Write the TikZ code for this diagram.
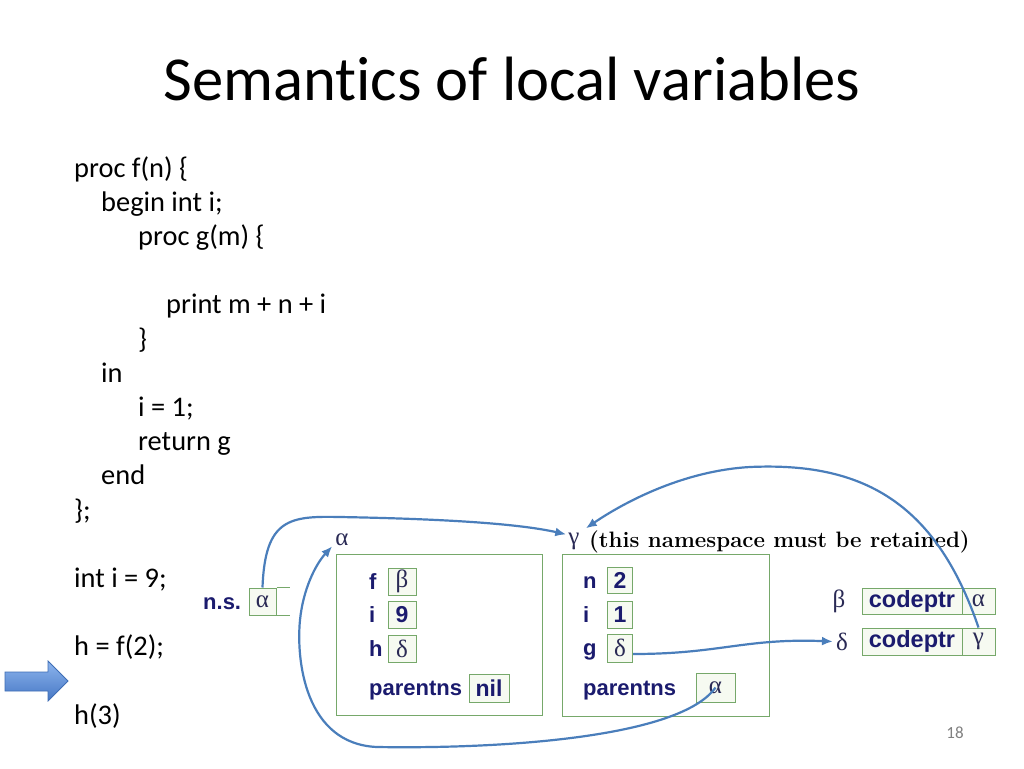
\documentclass[tikz,border=0pt]{standalone}
\usepackage{fontspec}
\newfontfamily\calfont[Ligatures=NoCommon]{Carlito}
\newfontfamily\hvfont{Liberation Sans}
\newfontfamily\grfont{Liberation Serif}
\usetikzlibrary{arrows.meta}
\definecolor{navy}{HTML}{1B1B6E}
\definecolor{frgreen}{HTML}{76A86A}
\definecolor{cellfill}{HTML}{F6FAF1}
\definecolor{conblue}{HTML}{4A7EBB}
\definecolor{arrlight}{HTML}{8DB5EE}
\definecolor{arrdark}{HTML}{4677C4}
\definecolor{arredge}{HTML}{3E6DB5}
\definecolor{grktext}{HTML}{2A2A55}
\begin{document}
\begin{tikzpicture}[x=1pt,y=-1pt,
  code/.style={font=\calfont\fontsize{28.4}{34}\selectfont, anchor=base west, inner sep=0pt},
  frame/.style={draw=frgreen, line width=1.1pt, anchor=north west, inner sep=0pt},
  cell/.style={draw=frgreen, fill=cellfill, line width=1pt, inner sep=0pt, minimum height=27pt, text=navy},
  lbl/.style={font=\hvfont\bfseries\fontsize{22}{22}\selectfont, text=navy, anchor=base west, inner sep=0pt},
  val/.style={font=\hvfont\bfseries\fontsize{23}{23}\selectfont},
  grk/.style={font=\grfont\fontsize{25}{25}\selectfont, text=grktext},
  conn/.style={draw=conblue, line width=2.2pt, -{Latex[length=11pt,width=9pt]}}
]
\useasboundingbox (0,0) rectangle (1024,768);
\fill[white] (0,0) rectangle (1024,768);

% title
\node[font=\calfont\fontsize{62.6}{70}\selectfont, anchor=base] (title) at (512,100) {Semantics of local variables};

% code
\node[code] (c0) at (74,177) {proc f(n) \{};
\node[code] (c1) at (101,211.2) {begin int i;};
\node[code] (c2) at (138,245.4) {proc g(m) \{};
\node[code] (c4) at (166,313.8) {print m + n + i};
\node[code] (c5) at (138,348) {\}};
\node[code] (c6) at (101,382.2) {in};
\node[code] (c7) at (138,416.4) {i = 1;};
\node[code] (c8) at (138,450.6) {return g};
\node[code] (c9) at (101,484.8) {end};
\node[code] (c10) at (74,519) {\};};
\node[code] (c12) at (74,587.4) {int i = 9;};
\node[code] (c14) at (74,655.8) {h = f(2);};
\node[code] (c16) at (74,724.2) {h(3)};

% block arrow
\path[top color=arrlight, bottom color=arrdark, draw=arredge, line width=0.8pt]
  (5,672) -- (48,672) -- (48,661) -- (68,681) -- (48,701) -- (48,691) -- (5,691) -- cycle;

% n.s.
\node[lbl] (ns) at (203,609.5) {n.s.};
\node[cell, grk, minimum width=27pt] (nsa) at (262.5,601.5) {α};
\draw[frgreen, line width=1pt] (nsa.north east) -- ++(13,0);
\draw[frgreen, line width=1pt] (nsa.south east) -- ++(13,0);

% alpha frame
\node[grk, inner sep=0pt] (al) at (342,540) {α};
\node[frame, minimum width=206pt, minimum height=161pt] (fa) at (336,554) {};
\node[lbl] (lf) at (369,589.5) {f};
\node[lbl] (li) at (369,622.5) {i};
\node[lbl] (lh) at (369,656.5) {h};
\node[lbl] (lp) at (369,695) {parentns};
\node[cell, grk, minimum width=28pt] (fb) at (402,581.5) {β};
\node[cell, val, minimum width=28pt] (i9) at (402,614.5) {9};
\node[cell, grk, minimum width=28pt] (hd) at (402,648.5) {δ};
\node[cell, val, minimum width=40pt, minimum height=28pt] (nil) at (489,688) {nil};

% gamma frame
\node[grk, inner sep=0pt] (gl) at (574,541) {γ};
\node[font=\bfseries\fontsize{22.3}{22}\selectfont, anchor=base west, inner sep=0pt] (note) at (589,547) {(this namespace must be retained)};
\node[frame, minimum width=207pt, minimum height=162pt] (fg) at (562,554) {};
\node[lbl] (ln) at (583,588.5) {n};
\node[lbl] (li2) at (583,622.5) {i};
\node[lbl] (lg) at (583,655.5) {g};
\node[lbl] (lp2) at (583,695) {parentns};
\node[cell, val, minimum width=25pt, minimum height=26pt] (n2) at (620,580) {2};
\node[cell, val, minimum width=25pt] (i1) at (620,614.5) {1};
\node[cell, grk, minimum width=25pt, minimum height=28pt] (gd) at (620,648) {δ};
\node[cell, grk, minimum width=39pt, minimum height=29pt] (gpa) at (715.5,687.5) {α};

% closures
\node[grk, inner sep=0pt] (bl) at (839,601) {β};
\node[cell, font=\hvfont\bfseries\fontsize{23.5}{24}\selectfont, minimum width=100pt, minimum height=26pt] (cp1) at (912,601) {codeptr};
\node[cell, grk, minimum width=33pt, minimum height=26pt] (ca1) at (978.5,601) {α};
\node[grk, inner sep=0pt] (dl) at (842,641.5) {δ};
\node[cell, font=\hvfont\bfseries\fontsize{23.5}{24}\selectfont, minimum width=100pt, minimum height=27pt] (cp2) at (912,641.5) {codeptr};
\node[cell, grk, minimum width=33pt, minimum height=27pt] (cg2) at (978.5,641.5) {γ};

% page number
\node[font=\calfont\fontsize{17}{17}\selectfont, text=gray] (pg) at (955,733) {18};

% connectors
\draw[conn] (nsa.north) .. controls (265,518) and (290,516) .. (340,517)
  .. controls (450,519) and (520,524) .. ([shift={(-2,2)}]gl.north west);
\draw[conn] (cg2.north) .. controls (935,500) and (860,462) .. (750,467)
  .. controls (680,471) and (620,505) .. ([shift={(6,-4)}]gl.north east);
\draw[conn] ([yshift=-6pt]gd.east) .. controls (720,654) and (745,638) .. ([xshift=-3pt]dl.west);
\draw[conn] (gpa.center) .. controls (680,738) and (500,749) .. (377,747)
  .. controls (305,744) and (296,660) .. (300,620)
  .. controls (303,590) and (315,565) .. ([shift={(-3,0)}]al.south west);
\end{tikzpicture}
\end{document}
